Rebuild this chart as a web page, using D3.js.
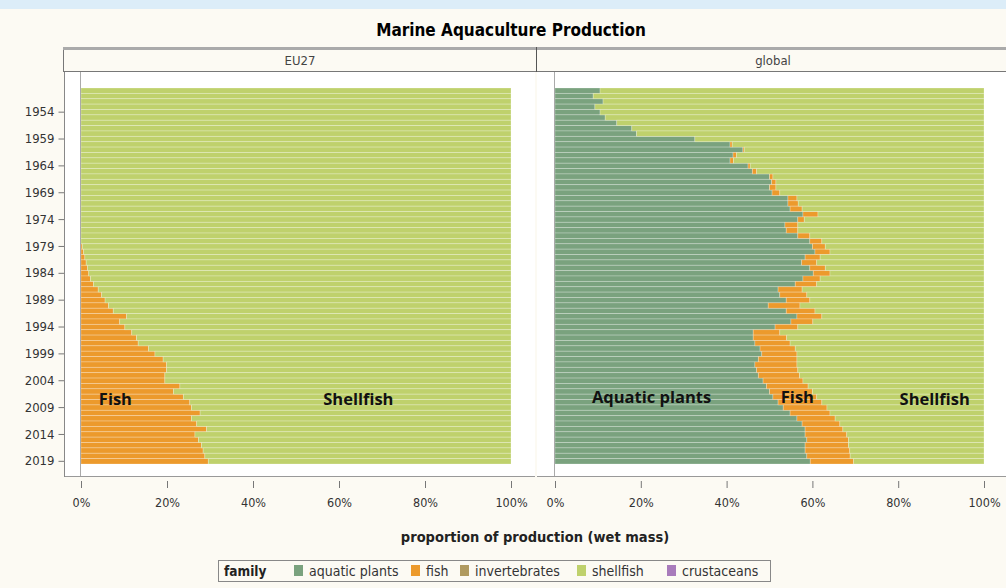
<meta charset="utf-8">
<script src="https://d3js.org/d3.v7.min.js"></script>
<style>
  body { margin: 0; background: #fcfaf3; }
  text { font-family: "DejaVu Sans Condensed", "DejaVu Sans", sans-serif; }
</style>
<div id="chart"></div>
<script>

// years shown on the y axis (one bar per year)
var years = d3.range(1950, 2020);
var yearTicks = [1954, 1959, 1964, 1969, 1974, 1979, 1984, 1989, 1994, 1999, 2004, 2009, 2014, 2019];
var pctTicks = [0, 20, 40, 60, 80, 100];

var families = ["aquatic plants", "fish", "invertebrates", "shellfish", "crustaceans"];
var familyColors = ["#7aa27e", "#ec9a2c", "#b09a5f", "#bfd16c", "#a87bbb"];

// EU27 fish share (%), 1950-2019; rest is shellfish
var euFish = [0,0,0,0,0, 0,0,0,0,0, 0,0,0,0,0, 0,0,0,0,0, 0,0,0,0,0, 0,0,0,0,0.3,
  0.6, 0.9, 1.2, 1.5, 1.8, 2.2, 2.9, 4.0, 4.8, 5.6,
  6.4, 7.5, 10.6, 9.0, 10.2, 11.8, 12.9, 13.3, 15.7, 17.2,
  19.1, 19.9, 19.9, 19.5, 19.5, 23.0, 21.5, 23.8, 25.3, 25.7,
  27.7, 25.7, 26.9, 29.2, 26.5, 27.3, 28.0, 28.4, 28.8, 29.6];

// global aquatic plants share (%), 1950-2019
var glPlants = [10.5, 8.9, 11.2, 9.3, 10.5, 11.7, 14.4, 17.9, 19.0, 32.6,
  40.8, 43.8, 41.5, 40.8, 45.0, 46.0, 50.0, 50.5, 50.0, 50.6,
  54.3, 54.3, 54.8, 57.8, 56.6, 53.6, 53.9, 56.6, 59.4, 60.0,
  60.6, 58.3, 57.5, 59.4, 60.2, 57.8, 56.0, 52.0, 52.4, 53.9,
  49.7, 53.9, 56.4, 55.0, 51.3, 46.2, 46.2, 46.6, 47.8, 48.2,
  47.4, 46.6, 47.0, 47.4, 48.5, 49.3, 50.0, 50.8, 52.0, 53.2,
  54.8, 56.4, 57.6, 58.3, 58.3, 58.7, 58.3, 58.3, 58.7, 59.5];

// global fish share (%), 1950-2019; rest is shellfish
var glFish = [0,0,0,0,0, 0,0,0,0,0,
  0.5, 0.3, 0.8, 0.8, 0.5, 1.0, 0.8, 1.0, 1.5, 1.8,
  2.1, 2.4, 2.8, 3.5, 1.5, 3.0, 2.7, 2.8, 2.8, 3.0,
  3.5, 3.5, 3.5, 3.6, 3.9, 4.0, 5.0, 5.6, 6.3, 5.5,
  7.4, 6.7, 5.8, 5.1, 5.3, 6.2, 7.8, 8.2, 8.2, 8.2,
  9.0, 9.8, 9.6, 9.6, 9.3, 9.7, 10.0, 10.2, 10.2, 10.2,
  9.3, 8.9, 8.8, 8.8, 9.7, 9.7, 10.1, 10.4, 10.1, 10.1];

// text written on the bars: panel, label, x position (%), year
var annotations = [
  ["EU27", "Fish", 8, 2008],
  ["EU27", "Shellfish", 64.5, 2008],
  ["global", "Aquatic plants", 22.5, 2007.6],
  ["global", "Fish", 56.5, 2007.6],
  ["global", "Shellfish", 88.5, 2008]
];

var W = 1006, H = 588;
var svg = d3.select("#chart").append("svg")
    .attr("width", W).attr("height", H);

svg.append("rect").attr("width", W).attr("height", H).attr("fill", "#fcfaf3");
svg.append("rect").attr("width", W).attr("height", 9).attr("fill", "#dcedf8");

// title
svg.append("text")
    .attr("x", 511).attr("y", 36)
    .attr("text-anchor", "middle")
    .style("font-size", "17px").style("font-weight", "bold")
    .text("Marine Aquaculture Production");

// build table rows for each panel
var euRows = years.map(function(y, i) {
  return {year: y, "aquatic plants": 0, fish: euFish[i], invertebrates: 0,
          shellfish: 100 - euFish[i], crustaceans: 0};
});
var glRows = years.map(function(y, i) {
  return {year: y, "aquatic plants": glPlants[i], fish: glFish[i], invertebrates: 0,
          shellfish: 100 - glPlants[i] - glFish[i], crustaceans: 0};
});

var panels = [
  {name: "EU27", rows: euRows, left: 64, right: 536, x0: 81, x1: 511},
  {name: "global", rows: glRows, left: 536, right: 1010, x0: 555, x1: 984}
];

var plotTop = 72, plotBottom = 476;

var y = d3.scaleBand()
    .domain(years)
    .range([88, 464])
    .paddingInner(0);

var yLin = d3.scaleLinear()
    .domain([1950, 2020])
    .range([88, 464]);

var color = d3.scaleOrdinal().domain(families).range(familyColors);
var stack = d3.stack().keys(families);

// strip header
svg.append("rect")
    .attr("x", 63.5).attr("y", 47.5)
    .attr("width", W).attr("height", 24)
    .attr("fill", "#fcfaf3").attr("stroke", "#777");
svg.append("line")
    .attr("x1", 63).attr("x2", W).attr("y1", 48.5).attr("y2", 48.5)
    .attr("stroke", "#aaa").attr("stroke-width", 3);

panels.forEach(function(p) {
  var x = d3.scaleLinear().domain([0, 100]).range([p.x0, p.x1]);

  svg.append("text")
      .attr("x", (p.left + Math.min(p.right, 1010)) / 2)
      .attr("y", 65)
      .attr("text-anchor", "middle")
      .style("font-size", "13px").attr("fill", "#444")
      .text(p.name);

  if (p.name == "global") {
    svg.append("line")
        .attr("x1", 536.5).attr("x2", 536.5).attr("y1", 47).attr("y2", 72)
        .attr("stroke", "#555");
  }

  // plot area
  svg.append("rect")
      .attr("x", p.left + 1).attr("y", plotTop)
      .attr("width", p.right - p.left - 2).attr("height", plotBottom - plotTop)
      .attr("fill", "#ffffff");
  svg.append("line")
      .attr("x1", p.left + 1).attr("x2", p.right - 1)
      .attr("y1", plotBottom + 0.5).attr("y2", plotBottom + 0.5)
      .attr("stroke", "#999");

  // stacked bars
  var series = stack(p.rows);
  svg.append("g").selectAll("g")
    .data(series)
    .enter().append("g")
      .attr("fill", function(d) { return color(d.key); })
    .selectAll("rect")
    .data(function(d) { return d; })
    .enter().append("rect")
      .attr("x", function(d) { return x(d[0]); })
      .attr("y", function(d) { return y(d.data.year); })
      .attr("width", function(d) { return Math.max(0, x(d[1]) - x(d[0])); })
      .attr("height", y.bandwidth())
      .attr("stroke", "rgba(255,255,255,0.3)")
      .attr("stroke-width", 0.8);

  // zero baseline
  svg.append("line")
      .attr("x1", x(0) - 0.5).attr("x2", x(0) - 0.5)
      .attr("y1", plotTop).attr("y2", plotBottom)
      .attr("stroke", "#aaa");

  // x axis
  var xAxis = svg.append("g")
      .attr("transform", "translate(0," + 481 + ")")
      .call(d3.axisBottom(x).tickValues(pctTicks)
            .tickFormat(function(d) { return d + "%"; })
            .tickSize(7).tickPadding(10));
  xAxis.select(".domain").remove();
  xAxis.selectAll("line").attr("stroke", "#777");
  xAxis.selectAll("text")
      .style("font-size", "12.5px").attr("fill", "#333")
      .style("font-family", "DejaVu Sans Condensed");

  // annotations
  annotations.filter(function(a) { return a[0] == p.name; }).forEach(function(a) {
    svg.append("text")
        .attr("x", x(a[2]))
        .attr("y", yLin(a[3]) + 5.5)
        .attr("text-anchor", "middle")
        .style("font-family", "Open Sans").style("font-weight", "bold")
        .style("font-size", "16.5px").attr("fill", "#111")
        .text(a[1]);
  });
});

// y axis
var yAxis = svg.append("g")
    .attr("transform", "translate(64.5,0)")
    .call(d3.axisLeft(y).tickValues(yearTicks).tickSize(6).tickPadding(4));
yAxis.select(".domain").remove();
yAxis.selectAll("line").attr("stroke", "#777");
yAxis.selectAll("text")
    .style("font-size", "13px").attr("fill", "#333")
    .style("font-family", "DejaVu Sans Condensed");
svg.append("line")
    .attr("x1", 64.5).attr("x2", 64.5).attr("y1", plotTop).attr("y2", plotBottom + 1)
    .attr("stroke", "#888");

// x axis title
svg.append("text")
    .attr("x", 535).attr("y", 542)
    .attr("text-anchor", "middle")
    .style("font-size", "14.5px").style("font-weight", "bold").attr("fill", "#222")
    .text("proportion of production (wet mass)");

// legend
var legend = svg.append("g");
legend.append("rect")
    .attr("x", 218.5).attr("y", 560.5).attr("width", 552).attr("height", 21)
    .attr("fill", "#fcfaf3").attr("stroke", "#888");
legend.append("text")
    .attr("x", 224).attr("y", 576)
    .style("font-size", "13.5px").style("font-weight", "bold").attr("fill", "#222")
    .text("family");
var legendX = [294, 411, 460, 577, 667];
families.forEach(function(f, i) {
  legend.append("rect")
      .attr("x", legendX[i]).attr("y", 565).attr("width", 9).attr("height", 11)
      .attr("fill", color(f));
  legend.append("text")
      .attr("x", legendX[i] + 15).attr("y", 576)
      .style("font-size", "14px").attr("fill", "#333")
      .text(f);
});

</script>
